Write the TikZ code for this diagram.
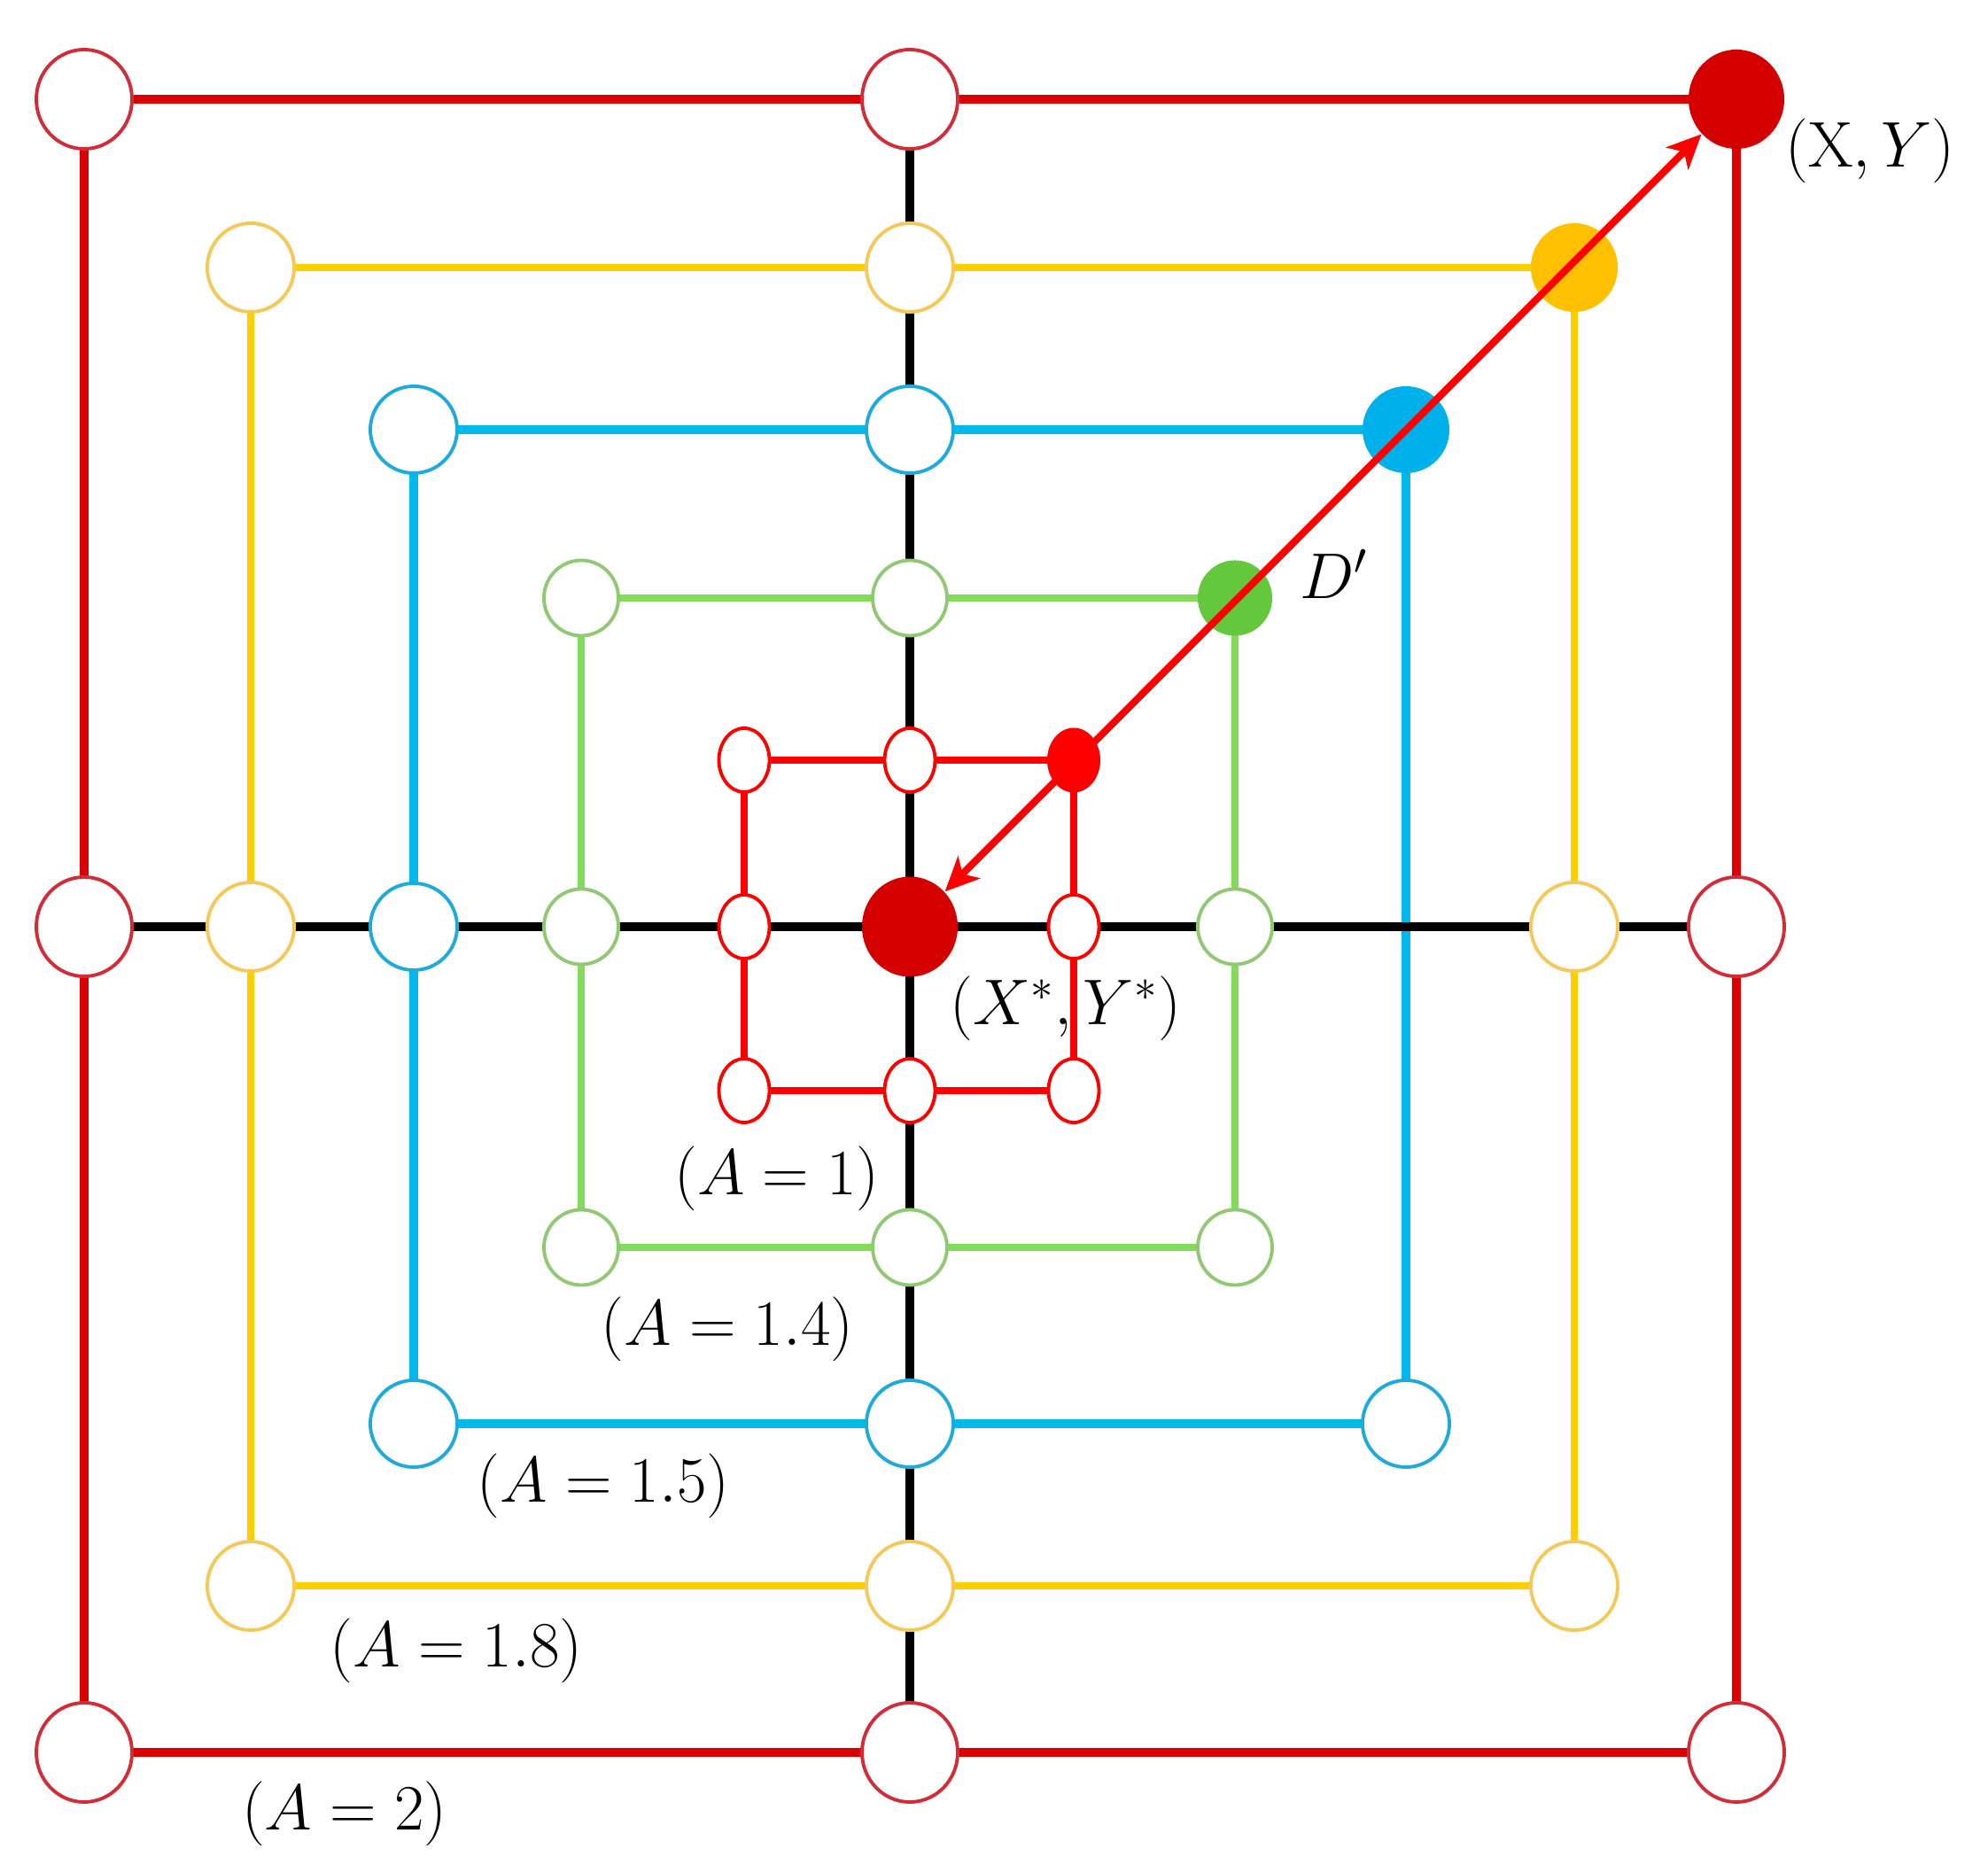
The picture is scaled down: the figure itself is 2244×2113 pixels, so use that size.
\documentclass[tikz,border=0pt]{standalone}
\usetikzlibrary{shapes.geometric,arrows.meta,backgrounds}
\definecolor{redL}{RGB}{220,0,0}
\definecolor{redO}{RGB}{210,45,55}
\definecolor{redF}{RGB}{212,0,0}
\definecolor{redS}{RGB}{255,0,0}
\definecolor{yelL}{RGB}{255,205,0}
\definecolor{yelO}{RGB}{245,200,90}
\definecolor{yelF}{RGB}{255,192,0}
\definecolor{bluL}{RGB}{0,185,235}
\definecolor{bluO}{RGB}{30,170,220}
\definecolor{bluF}{RGB}{0,176,235}
\definecolor{grnL}{RGB}{130,220,90}
\definecolor{grnO}{RGB}{145,200,115}
\definecolor{grnF}{RGB}{100,200,60}
\tikzset{
  ring/.style={ellipse, draw=#1, fill=white, line width=1.1pt, inner sep=0pt},
  dot/.style={ellipse, fill=#1, draw=none, inner sep=0pt},
  rsz/.style={minimum width=1.08cm, minimum height=1.12cm},
  ysz/.style={minimum width=0.98cm, minimum height=1.0cm},
  bsz/.style={minimum width=0.98cm, minimum height=0.98cm},
  gsz/.style={minimum width=0.84cm, minimum height=0.85cm},
  ssz/.style={minimum width=0.57cm, minimum height=0.72cm},
  sfsz/.style={minimum width=0.60cm, minimum height=0.73cm},
  csz/.style={minimum width=1.08cm, minimum height=1.13cm},
  redline/.style={draw=redL, line width=2.6pt},
  yelline/.style={draw=yelL, line width=2.2pt},
  bluline/.style={draw=bluL, line width=2.8pt},
  grnline/.style={draw=grnL, line width=2.5pt},
  smlline/.style={draw=redS, line width=2.3pt},
  blkline/.style={draw=black, line width=2.8pt},
  arrline/.style={draw=redS, line width=2.3pt,
    {Stealth[length=11pt,width=10pt,inset=3pt]}-{Stealth[length=11pt,width=10pt,inset=3pt]}},
  lab/.style={inner sep=0pt, font=\fontsize{20.74}{25}\selectfont},
}
\begin{document}
\begin{tikzpicture}[x=0.01cm, y=-0.01cm]
\useasboundingbox (0,0) rectangle (2244,2113);
% A = 2 ring
\node[ring=redO, rsz] (rTL) at (95,112) {};
\node[ring=redO, rsz] (rTM) at (1027,112) {};
\node[dot=redF, rsz] (rTR) at (1960,112) {};
\node[ring=redO, rsz] (rML) at (95,1046) {};
\node[ring=redO, rsz] (rMR) at (1960,1046) {};
\node[ring=redO, rsz] (rBL) at (95,1978) {};
\node[ring=redO, rsz] (rBM) at (1027,1978) {};
\node[ring=redO, rsz] (rBR) at (1960,1978) {};
% A = 1.8 ring
\node[ring=yelO, ysz] (yTL) at (283,302) {};
\node[ring=yelO, ysz] (yTM) at (1027,302) {};
\node[dot=yelF, ysz] (yTR) at (1777,302) {};
\node[ring=yelO, ysz] (yML) at (283,1046) {};
\node[ring=yelO, ysz] (yMR) at (1777,1046) {};
\node[ring=yelO, ysz] (yBL) at (283,1790) {};
\node[ring=yelO, ysz] (yBM) at (1027,1790) {};
\node[ring=yelO, ysz] (yBR) at (1777,1790) {};
% A = 1.5 ring
\node[ring=bluO, bsz] (bTL) at (467,485) {};
\node[ring=bluO, bsz] (bTM) at (1027,485) {};
\node[dot=bluF, bsz] (bTR) at (1587,485) {};
\node[ring=bluO, bsz] (bML) at (467,1046) {};
\node[ring=bluO, bsz] (bBL) at (467,1607) {};
\node[ring=bluO, bsz] (bBM) at (1027,1607) {};
\node[ring=bluO, bsz] (bBR) at (1587,1607) {};
% A = 1.4 ring
\node[ring=grnO, gsz] (gTL) at (656,675) {};
\node[ring=grnO, gsz] (gTM) at (1027,675) {};
\node[dot=grnF, gsz] (gTR) at (1394,675) {};
\node[ring=grnO, gsz] (gML) at (656,1046) {};
\node[ring=grnO, gsz] (gMR) at (1394,1046) {};
\node[ring=grnO, gsz] (gBL) at (656,1408) {};
\node[ring=grnO, gsz] (gBM) at (1027,1408) {};
\node[ring=grnO, gsz] (gBR) at (1394,1408) {};
% A = 1 ring
\node[ring=redS, ssz] (sTL) at (840,858) {};
\node[ring=redS, ssz] (sTM) at (1027,858) {};
\node[dot=redS, sfsz] (sTR) at (1212,858) {};
\node[ring=redS, ssz] (sML) at (840,1046) {};
\node[ring=redS, ssz] (sMR) at (1212,1046) {};
\node[ring=redS, ssz] (sBL) at (840,1231) {};
\node[ring=redS, ssz] (sBM) at (1027,1231) {};
\node[ring=redS, ssz] (sBR) at (1212,1231) {};
% optimum
\node[dot=redF, csz] (C) at (1027,1046) {};
% connectors behind the nodes
\begin{pgfonlayer}{background}
\foreach \a/\b in {rTL/rTM, rTM/rTR, rTR/rMR, rMR/rBR, rBR/rBM, rBM/rBL, rBL/rML, rML/rTL}
  \draw[redline] (\a.center) -- (\b.center);
\foreach \a/\b in {yTL/yTM, yTM/yTR, yTR/yMR, yMR/yBR, yBR/yBM, yBM/yBL, yBL/yML, yML/yTL}
  \draw[yelline] (\a.center) -- (\b.center);
\foreach \a/\b in {bTL/bTM, bTM/bTR, bTR/bBR, bBR/bBM, bBM/bBL, bBL/bML, bML/bTL}
  \draw[bluline] (\a.center) -- (\b.center);
\foreach \a/\b in {gTL/gTM, gTM/gTR, gTR/gMR, gMR/gBR, gBR/gBM, gBM/gBL, gBL/gML, gML/gTL}
  \draw[grnline] (\a.center) -- (\b.center);
\foreach \a/\b in {sTL/sTM, sTM/sTR, sTR/sMR, sMR/sBR, sBR/sBM, sBM/sBL, sBL/sML, sML/sTL}
  \draw[smlline] (\a.center) -- (\b.center);
\draw[blkline] (rML.center) -- (rMR.center);
\draw[blkline] (rTM.center) -- (rBM.center);
\end{pgfonlayer}
% distance arrow
\draw[arrline] (rTR) -- (C);
% labels
\node[lab] (lXY) at (2111,170) {$(\mathrm{X},Y)$};
\node[lab] (lXs) at (1203,1138) {$(X^{*},Y^{*})$};
\node[lab] (lD) at (1506,648) {$D'$};
\node[lab] (l1) at (877,1330) {$(A=1)$};
\node[lab] (l14) at (821,1500) {$(A=1.4)$};
\node[lab] (l15) at (681,1677) {$(A=1.5)$};
\node[lab] (l18) at (515,1863) {$(A=1.8)$};
\node[lab] (l2) at (389,2047) {$(A=2)$};
\end{tikzpicture}
\end{document}
